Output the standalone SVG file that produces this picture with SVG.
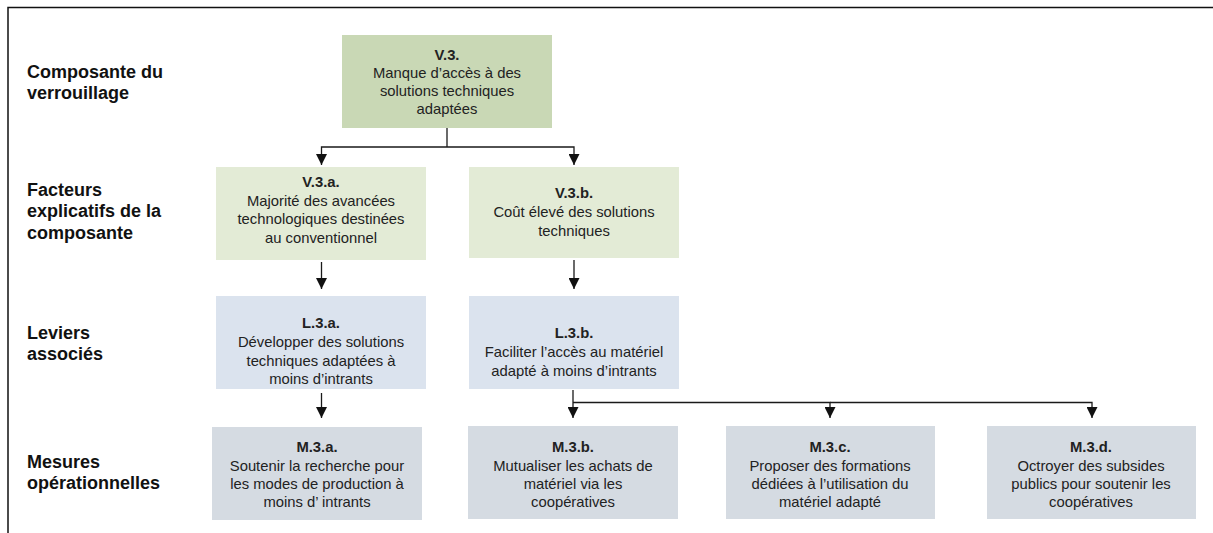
<svg xmlns="http://www.w3.org/2000/svg" width="1213" height="533" viewBox="0 0 1213 533">
  <defs>
    <style>
      .lbl { font-family: "Liberation Sans", Arial, sans-serif; font-size: 18px; font-weight: bold; fill: #111; }
      .t { font-family: "Liberation Sans", Arial, sans-serif; font-size: 14.8px; fill: #222; text-anchor: middle; }
      .b { font-weight: bold; }
      .c0 { fill: #c9d8b5; }
      .c1 { fill: #e3ebd6; }
      .c2 { fill: #dbe3ee; }
      .c3 { fill: #d5dbe2; }
      .ln { fill: none; stroke: #1a1a1a; stroke-width: 1.3; }
    </style>
    <marker id="ah" markerUnits="userSpaceOnUse" markerWidth="11" markerHeight="11" viewBox="0 0 11 11" refX="11" refY="5.5" orient="auto">
      <path d="M0,0 L11,5.5 L0,11 Z" fill="#111"/>
    </marker>
  </defs>

  <rect width="1213" height="533" fill="#fff"/>
  <path d="M8,533 L8,7.5 L1213,7.5" fill="none" stroke="#111" stroke-width="1.5"/>

  <g id="row-labels">
    <text class="lbl" x="27" y="78">Composante du</text>
    <text class="lbl" x="27" y="99">verrouillage</text>
    <text class="lbl" x="27" y="196">Facteurs</text>
    <text class="lbl" x="27" y="217">explicatifs de la</text>
    <text class="lbl" x="27" y="239">composante</text>
    <text class="lbl" x="27" y="339">Leviers</text>
    <text class="lbl" x="27" y="360">associés</text>
    <text class="lbl" x="27" y="468">Mesures</text>
    <text class="lbl" x="27" y="489">opérationnelles</text>
  </g>

  <g id="connectors">
    <path class="ln" d="M447,128 V147"/>
    <path class="ln" d="M447,147 H321.5 V165" marker-end="url(#ah)"/>
    <path class="ln" d="M447,147 H574 V165" marker-end="url(#ah)"/>
    <path class="ln" d="M321.5,262 V289" marker-end="url(#ah)"/>
    <path class="ln" d="M574,260 V289" marker-end="url(#ah)"/>
    <path class="ln" d="M321.5,393 V418" marker-end="url(#ah)"/>
    <path class="ln" d="M573,390 V418" marker-end="url(#ah)"/>
    <path class="ln" d="M573,402.5 H830 V418" marker-end="url(#ah)"/>
    <path class="ln" d="M830,402.5 H1092 V418" marker-end="url(#ah)"/>
  </g>

  <g id="V3">
    <rect class="c0" x="342" y="35" width="210" height="93"/>
    <text class="t b" x="447" y="60">V.3.</text>
    <text class="t" x="447" y="78">Manque d’accès à des</text>
    <text class="t" x="447" y="96">solutions techniques</text>
    <text class="t" x="447" y="114">adaptées</text>
  </g>

  <g id="V3a">
    <rect class="c1" x="216" y="167" width="210" height="93"/>
    <text class="t b" x="321" y="187">V.3.a.</text>
    <text class="t" x="321" y="206">Majorité des avancées</text>
    <text class="t" x="321" y="224">technologiques destinées</text>
    <text class="t" x="321" y="243">au conventionnel</text>
  </g>

  <g id="V3b">
    <rect class="c1" x="469" y="167" width="210" height="91"/>
    <text class="t b" x="574" y="198">V.3.b.</text>
    <text class="t" x="574" y="217">Coût élevé des solutions</text>
    <text class="t" x="574" y="236">techniques</text>
  </g>

  <g id="L3a">
    <rect class="c2" x="216" y="296" width="210" height="93"/>
    <text class="t b" x="321" y="328">L.3.a.</text>
    <text class="t" x="321" y="347">Développer des solutions</text>
    <text class="t" x="321" y="366">techniques adaptées à</text>
    <text class="t" x="321" y="384">moins d’intrants</text>
  </g>

  <g id="L3b">
    <rect class="c2" x="469" y="296" width="210" height="93"/>
    <text class="t b" x="574" y="338">L.3.b.</text>
    <text class="t" x="574" y="357">Faciliter l’accès au matériel</text>
    <text class="t" x="574" y="376">adapté à moins d’intrants</text>
  </g>

  <g id="M3a">
    <rect class="c3" x="212" y="427" width="210" height="93"/>
    <text class="t b" x="317" y="452">M.3.a.</text>
    <text class="t" x="317" y="471">Soutenir la recherche pour</text>
    <text class="t" x="317" y="489">les modes de production à</text>
    <text class="t" x="317" y="507">moins d’ intrants</text>
  </g>

  <g id="M3b">
    <rect class="c3" x="468" y="426" width="210" height="93"/>
    <text class="t b" x="573" y="452">M.3.b.</text>
    <text class="t" x="573" y="471">Mutualiser les achats de</text>
    <text class="t" x="573" y="489">matériel via les</text>
    <text class="t" x="573" y="507">coopératives</text>
  </g>

  <g id="M3c">
    <rect class="c3" x="726" y="426" width="209" height="93"/>
    <text class="t b" x="830" y="452">M.3.c.</text>
    <text class="t" x="830" y="471">Proposer des formations</text>
    <text class="t" x="830" y="489">dédiées à l’utilisation du</text>
    <text class="t" x="830" y="507">matériel adapté</text>
  </g>

  <g id="M3d">
    <rect class="c3" x="987" y="426" width="209" height="93"/>
    <text class="t b" x="1091" y="452">M.3.d.</text>
    <text class="t" x="1091" y="471">Octroyer des subsides</text>
    <text class="t" x="1091" y="489">publics pour soutenir les</text>
    <text class="t" x="1091" y="507">coopératives</text>
  </g>
</svg>
